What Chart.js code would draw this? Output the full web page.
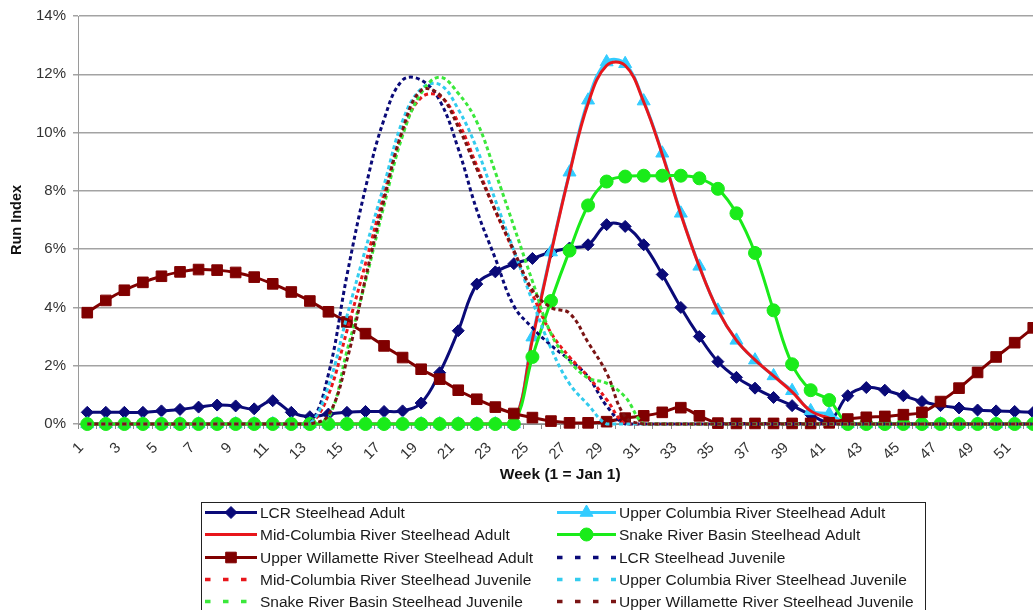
<!DOCTYPE html>
<html>
<head>
<meta charset="utf-8">
<title>Steelhead Run Index by Week</title>
<style>
  html, body { margin: 0; padding: 0; background: #fff; overflow: hidden; }
  #wrap { width: 1033px; height: 610px; overflow: hidden; position: relative; background: #fff; }
  canvas { display: block; }
</style>
<script src="https://cdn.jsdelivr.net/npm/chart.js@4.4.1/dist/chart.umd.min.js"></script>
</head>
<body>
<div id="wrap"><canvas id="chart" width="1051" height="610"></canvas></div>
<script>
// Week numbers (1 = Jan 1)
const weeks = ['1','2','3','4','5','6','7','8','9','10','11','12','13','14','15','16','17','18','19','20',
  '21','22','23','24','25','26','27','28','29','30','31','32','33','34','35','36','37','38','39','40',
  '41','42','43','44','45','46','47','48','49','50','51','52'];

// Y-axis ticks (percent)
const yTicks = [0, 2, 4, 6, 8, 10, 12, 14];

// Weekly run index, percent of annual run
const lcrAdult = [0.40,0.40,0.40,0.40,0.45,0.50,0.58,0.65,0.62,0.52,0.80,0.40,0.25,0.34,0.40,0.43,0.43,0.45,0.72,1.76,
  3.20,4.80,5.22,5.50,5.68,5.90,6.04,6.15,6.84,6.78,6.15,5.13,4.00,3.00,2.14,1.60,1.23,0.91,0.63,0.32,
  0.10,0.97,1.25,1.16,0.97,0.77,0.63,0.55,0.48,0.45,0.43,0.40];
const ucAdult = [0,0,0,0,0,0,0,0,0,0,0,0,0,0,0,0,0,0,0,0,
  0,0,0,0,2.98,5.90,8.64,11.11,12.42,12.36,11.08,9.29,7.23,5.41,3.90,2.87,2.19,1.65,1.14,0.45,
  0.34,0,0,0,0,0,0,0,0,0,0,0];
const mcAdult = [0,0,0,0,0,0,0,0,0,0,0,0,0,0,0,0,0,0,0,0,
  0,0,0,0,2.90,5.85,8.60,11.00,12.30,12.30,11.05,9.25,7.20,5.40,3.90,2.87,2.20,1.65,1.10,0.45,
  0.20,0,0,0,0,0,0,0,0,0,0,0];
const snakeAdult = [0,0,0,0,0,0,0,0,0,0,0,0,0,0,0,0,0,0,0,0,
  0,0,0,0,2.30,4.22,5.95,7.50,8.32,8.49,8.52,8.52,8.52,8.43,8.07,7.23,5.87,3.90,2.05,1.16,
  0.82,0,0,0,0,0,0,0,0,0,0,0];
const willAdult = [3.82,4.24,4.59,4.86,5.07,5.22,5.30,5.28,5.20,5.04,4.81,4.53,4.22,3.85,3.50,3.10,2.68,2.28,1.88,1.54,
  1.16,0.85,0.58,0.36,0.22,0.10,0.04,0.04,0.08,0.20,0.28,0.40,0.56,0.28,0.03,0.02,0.02,0.02,0.02,0.02,
  0.04,0.17,0.23,0.26,0.32,0.40,0.77,1.23,1.77,2.30,2.79,3.30];
const lcrJuv = [0,0,0,0,0,0,0,0,0,0,0,0,0,1.70,5.10,8.10,10.45,11.80,11.80,11.10,
  9.45,7.34,5.68,4.05,3.30,2.70,2.20,1.62,0.62,0,0,0,0,0,0,0,0,0,0,0,
  0,0,0,0,0,0,0,0,0,0,0,0];
const mcJuv = [0,0,0,0,0,0,0,0,0,0,0,0,0,1.00,3.20,5.50,7.90,10.00,11.20,11.25,
  10.35,8.86,7.31,5.90,4.45,3.13,2.30,1.63,0.84,0,0,0,0,0,0,0,0,0,0,0,
  0,0,0,0,0,0,0,0,0,0,0,0];
const ucJuv = [0,0,0,0,0,0,0,0,0,0,0,0,0,1.30,3.70,6.00,8.20,10.40,11.50,11.65,
  10.80,9.45,7.68,5.95,4.22,2.60,1.38,0.66,0,0,0,0,0,0,0,0,0,0,0,0,
  0,0,0,0,0,0,0,0,0,0,0,0];
const snakeJuv = [0,0,0,0,0,0,0,0,0,0,0,0,0,0.20,2.50,4.90,7.50,9.90,11.35,11.90,
  11.35,10.37,8.64,6.78,4.90,3.10,2.16,1.58,1.40,0.93,0,0,0,0,0,0,0,0,0,0,
  0,0,0,0,0,0,0,0,0,0,0,0];
const willJuv = [0,0,0,0,0,0,0,0,0,0,0,0,0,0.30,2.20,5.00,7.70,10.10,11.45,11.30,
  10.20,8.75,7.33,5.95,4.60,4.00,3.80,2.80,1.75,0.25,0,0,0,0,0,0,0,0,0,0,
  0,0,0,0,0,0,0,0,0,0,0,0];

const FONT = "'Liberation Sans', Arial, Helvetica, sans-serif";
Chart.defaults.font.family = FONT;

const NAVY = '#0a0a78', LBLUE = '#33CCFF', RED = '#E8161B', GREEN = '#1AEB1A', MAROON = '#800000';
const DASH = [4, 3];

function solid(label, data, color, style, radius) {
  return {
    label, data,
    borderColor: color, backgroundColor: color,
    borderWidth: 3,
    pointStyle: style || 'circle',
    pointRadius: style ? radius : 0,
    pointBorderWidth: 1,
    pointBorderColor: color,
    pointBackgroundColor: color,
    tension: 0.4,
    clip: 9
  };
}
function dashed(label, data, color) {
  return {
    label, data,
    borderColor: color, backgroundColor: color,
    borderWidth: 3,
    borderDash: DASH,
    borderCapStyle: 'butt',
    pointRadius: 0,
    tension: 0.4,
    clip: 9
  };
}

const datasets = [
  solid('LCR Steelhead Adult', lcrAdult, NAVY, 'rectRot', 6),
  solid('Upper Columbia River Steelhead Adult', ucAdult, LBLUE, 'triangle', 7.5),
  solid('Mid-Columbia River Steelhead Adult', mcAdult, RED, null, 0),
  solid('Snake River Basin Steelhead Adult', snakeAdult, GREEN, 'circle', 6.5),
  solid('Upper Willamette River Steelhead Adult', willAdult, MAROON, 'rect', 7.5),
  dashed('LCR Steelhead Juvenile', lcrJuv, NAVY),
  dashed('Mid-Columbia River Steelhead Juvenile', mcJuv, RED),
  dashed('Upper Columbia River Steelhead Juvenile', ucJuv, '#33CCEE'),
  dashed('Snake River Basin Steelhead Juvenile', snakeJuv, '#3BE83B'),
  dashed('Upper Willamette River Steelhead Juvenile', willJuv, '#7A1414')
];
// later series are painted over earlier ones
datasets.forEach((d, i) => { d.order = datasets.length - i; });

// Boxed two-column legend drawn under the axis
const boxLegend = {
  id: 'boxLegend',
  afterDraw(chart) {
    const ctx = chart.ctx;
    const box = { x: 201.5, y: 502.5, w: 724, h: 120 };
    ctx.save();
    ctx.fillStyle = '#fff';
    ctx.fillRect(box.x, box.y, box.w, box.h);
    ctx.strokeStyle = '#222';
    ctx.lineWidth = 1;
    ctx.strokeRect(box.x, box.y, box.w, box.h);

    const cols = [
      { x0: 205, x1: 257, tx: 260 },
      { x0: 557, x1: 616, tx: 619 }
    ];
    const rowY = 512, rowStep = 22.3;
    ctx.font = '15.5px ' + FONT;
    ctx.textBaseline = 'middle';
    ctx.textAlign = 'left';

    chart.data.datasets.forEach((ds, i) => {
      const c = cols[i % 2];
      const y = Math.round(rowY + Math.floor(i / 2) * rowStep) + 0.5;
      ctx.strokeStyle = ds.borderColor;
      if (ds.borderDash) {
        ctx.lineWidth = 3.5;
        ctx.setLineDash([5.5, 12.5]);
      } else {
        ctx.lineWidth = 3;
        ctx.setLineDash([]);
      }
      ctx.lineCap = 'butt';
      ctx.beginPath();
      ctx.moveTo(c.x0, y);
      ctx.lineTo(c.x1, y);
      ctx.stroke();
      ctx.setLineDash([]);
      if (ds.pointRadius > 0) {
        ctx.fillStyle = ds.pointBackgroundColor;
        ctx.strokeStyle = ds.pointBorderColor;
        ctx.lineWidth = 1;
        Chart.helpers.drawPoint(ctx, {
          pointStyle: ds.pointStyle,
          radius: ds.pointRadius,
          rotation: 0,
          borderWidth: 1
        }, (c.x0 + c.x1) / 2, y);
      }
      ctx.fillStyle = '#1a1a1a';
      ctx.fillText(ds.label, c.tx, y + 1);
    });
    ctx.restore();
  }
};

const whiteBg = {
  id: 'whiteBg',
  beforeDraw(chart) {
    const ctx = chart.ctx;
    ctx.save();
    ctx.fillStyle = '#fff';
    ctx.fillRect(0, 0, chart.width, chart.height);
    ctx.restore();
  }
};

new Chart(document.getElementById('chart'), {
  type: 'line',
  data: { labels: weeks, datasets },
  options: {
    responsive: false,
    devicePixelRatio: 1,
    animation: false,
    events: [],
    layout: { padding: { top: 15, right: 6, bottom: 0, left: 0 } },
    plugins: {
      legend: { display: false },
      tooltip: { enabled: false },
      title: { display: false }
    },
    scales: {
      x: {
        type: 'category',
        offset: true,
        afterFit(scale) {
          scale.height = 186;
          scale.paddingLeft = 0;
          scale.paddingRight = 0;
        },
        grid: {
          display: true,
          offset: true,
          drawOnChartArea: false,
          drawTicks: true,
          tickLength: 5,
          color: '#8a8a8a',
          lineWidth: 1
        },
        border: { display: true, color: '#8a8a8a', width: 1 },
        ticks: {
          autoSkip: false,
          minRotation: 45,
          maxRotation: 45,
          padding: 10,
          labelOffset: -6,
          color: '#333',
          font: { size: 15 },
          callback(value, index) {
            return index % 2 === 0 ? this.getLabelForValue(value) : '';
          }
        },
        title: {
          display: true,
          text: 'Week (1 = Jan 1)',
          color: '#111',
          font: { size: 15.5, weight: 'bold' },
          padding: { top: 4, bottom: 126 }
        }
      },
      y: {
        min: 0,
        max: 14,
        afterFit(scale) { scale.width = 78; },
        afterBuildTicks(scale) { scale.ticks = yTicks.map(v => ({ value: v })); },
        grid: {
          color: '#a3a3a3',
          lineWidth: 1.5,
          tickLength: 5,
          drawTicks: true
        },
        border: { display: true, color: '#9a9a9a', width: 1 },
        ticks: {
          padding: 7,
          color: '#333',
          font: { size: 15 },
          callback: v => v + '%'
        },
        title: {
          display: true,
          text: 'Run Index',
          color: '#111',
          font: { size: 14.5, weight: 'bold' },
          padding: { top: 8, bottom: 0 }
        }
      }
    }
  },
  plugins: [whiteBg, boxLegend]
});
</script>
</body>
</html>
